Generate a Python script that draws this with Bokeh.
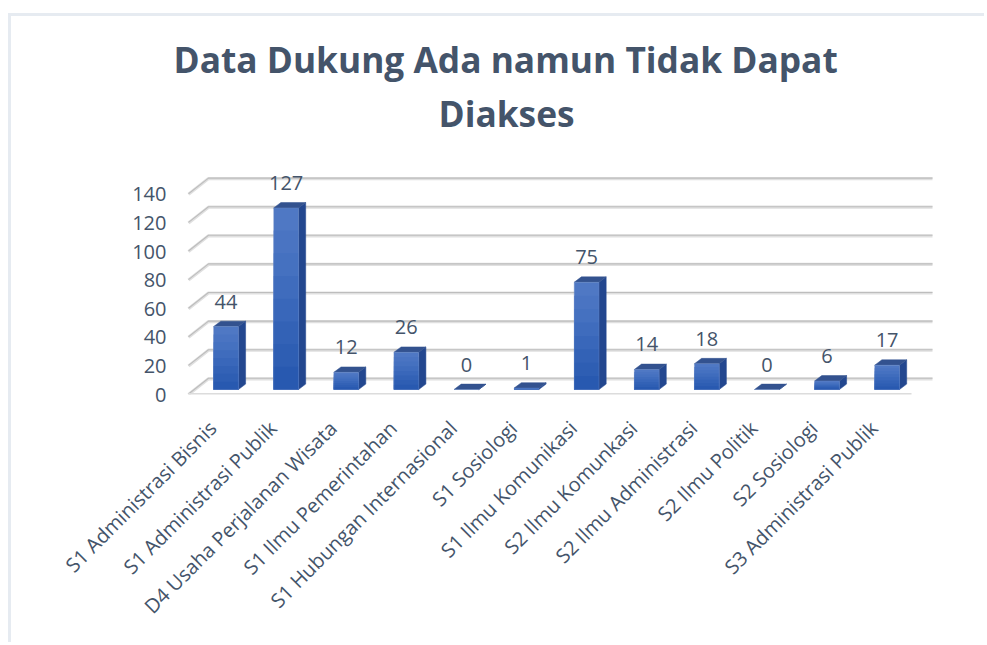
from math import pi
from bokeh.embed import file_html
from bokeh.resources import INLINE
from bokeh.plotting import figure
from bokeh.models import FixedTicker, Title, ColumnDataSource
from bokeh.core.properties import value

categories = ["S1 Administrasi Bisnis", "S1 Administrasi Publik", "D4 Usaha Perjalanan Wisata",
              "S1 Ilmu Pemerintahan", "S1 Hubungan Internasional", "S1 Sosiologi",
              "S1 Ilmu Komunikasi", "S2 Ilmu Komunkasi", "S2 Ilmu Administrasi",
              "S2 Ilmu Politik", "S2 Sosiologi", "S3 Administrasi Publik"]
values = [44, 127, 12, 26, 0, 1, 75, 14, 18, 0, 6, 17]
y_ticks = [0, 20, 40, 60, 80, 100, 120, 140]
title_lines = ["Data Dukung Ada namun Tidak Dapat", "Diakses"]

TEXT = "#44546a"
FONT = "Open Sans"
# the canvas sits inside a thin page border drawn as the figure's CSS border
OX, OY = 11, 16
W, H = 987 - OX, 645 - OY
# page-pixel geometry of the plotting frame
FL, FR, FT, FB = 178, 940, 165, 394
PX_X = 60.1          # pixels per category
PX_Y = 1.43          # pixels per unit
X0 = 225.5           # page x of first category centre
xr = ((FL - X0) / PX_X, (FR - X0) / PX_X)
yr = (0, (FB - FT) / PX_Y)
dx = lambda px: px / PX_X
dy = lambda px: px / PX_Y

p = figure(width=W - 3, height=H - 3, output_backend="svg", toolbar_location=None,
           x_range=xr, y_range=yr, min_border_left=FL - OX, min_border_right=OX + W - FR,
           min_border_top=FT - OY, min_border_bottom=OY + H - FB,
           margin=(OY - 3, 0, 0, OX - 3),
           styles={"border-top": "3px solid #e6ebf1", "border-left": "3px solid #e6ebf1",
                   "box-sizing": "content-box"})
p.outline_line_color = None
p.grid.visible = False

tick_shift = 0.22
tick_pos = [i - tick_shift for i in range(len(categories))]
p.xaxis.ticker = FixedTicker(ticks=tick_pos)
p.xaxis.major_label_overrides = {t: c for t, c in zip(tick_pos, categories)}
p.xaxis.major_label_orientation = pi / 4
p.xaxis.major_label_text_font = FONT
p.xaxis.major_label_text_font_size = "20px"
p.xaxis.major_label_text_color = TEXT
p.xaxis.major_label_standoff = 24
p.yaxis.ticker = FixedTicker(ticks=y_ticks)
p.yaxis.major_label_text_font = FONT
p.yaxis.major_label_text_font_size = "20px"
p.yaxis.major_label_text_color = TEXT
p.yaxis.major_label_standoff = 6
for ax in (p.xaxis, p.yaxis):
    ax.axis_line_color = None
    ax.major_tick_line_color = None
    ax.minor_tick_line_color = None

# walls: back-wall grid lines + side diagonals
x_fl = (188 - X0) / PX_X
x_bl = (208 - X0) / PX_X
x_br = (932 - X0) / PX_X
x_fr = (911 - X0) / PX_X
wall = dy(15.7)
for v in y_ticks:
    yb = v + wall
    p.line([x_fl, x_bl, x_br], [v, yb, yb], line_color="#e0e0e0", line_width=3.2)
    p.line([x_fl, x_bl, x_br], [v + dy(.5), yb + dy(.5), yb + dy(.5)], line_color="#bdbdbd", line_width=1.1)
p.line([x_fl, x_fr], [0, 0], line_color="#dcdcdc", line_width=3)

# bars
base = dy(5)
hw = dx(12.4)
ddx, ddy = dx(7.2), dy(5.4)
steps = ["#4f78c4", "#4a74c2", "#4571c0", "#3f6cbd", "#3967ba", "#3362b6", "#2e5eb3", "#2859b0"]
xs_top, ys_top, xs_side, ys_side = [], [], [], []
for i, v in enumerate(values):
    t = base + v
    xs_top.append([i - hw, i + hw, i + hw + ddx, i - hw + ddx])
    ys_top.append([t, t, t + ddy, t + ddy])
    xs_side.append([i + hw, i + hw + ddx, i + hw + ddx, i + hw])
    ys_side.append([base, base + ddy, t + ddy, t])
p.patches(xs_side, ys_side, fill_color="#23478f", line_color="#23478f", line_width=0.5)
p.patches(xs_top, ys_top, fill_color="#33528f", line_color="#33528f", line_width=0.5)
# front faces, layered from the full height downward to give a soft gradient
for k, c in enumerate(steps):
    src = ColumnDataSource(dict(
        left=[i - hw for i in range(len(values))],
        right=[i + hw for i in range(len(values))],
        bottom=[base for _ in values],
        top=[base + v * (1 - k / len(steps)) for v in values]))
    p.quad(left="left", right="right", bottom="bottom", top="top", source=src, fill_color=c,
           line_color=None)
p.quad(left=[i - hw for i in range(len(values))], right=[i + hw for i in range(len(values))],
       bottom=[base] * len(values), top=[base + v for v in values], fill_color=None,
       line_color="#6f8fc8", line_width=0.6, line_alpha=0.6)

# data labels
p.text(x=list(range(len(values))), y=[base + v + dy(25) for v in values], text=[str(v) for v in values],
       text_font=value(FONT), text_font_size="20px", text_color=TEXT, text_align="center",
       text_baseline="middle")

# title, two stacked title panels above the frame
p.title = None
for line, off, st in zip(reversed(title_lines), (260, -5), (58, -50)):
    p.add_layout(Title(text=line, align="left", offset=off, standoff=st, text_font=FONT,
                       text_font_style="bold", text_font_size="35.3px", text_color=TEXT), "above")

open("out.html", "w").write(file_html(p, INLINE))
